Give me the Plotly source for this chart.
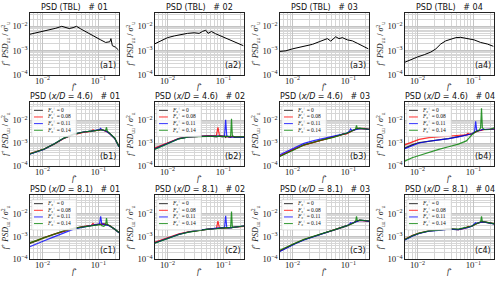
import plotly.graph_objects as go

# ---------------- data ----------------
# row (a): turbulent boundary layer spectra
a1_f = [0.0058, 0.0076, 0.010, 0.0132, 0.0173, 0.0221, 0.0254, 0.030, 0.0353, 0.0405, 0.0484, 0.0594, 0.073, 0.0896, 0.110, 0.135, 0.161, 0.168, 0.178, 0.204, 0.228]
a1_psd = [0.00464, 0.0054, 0.0059, 0.0069, 0.0083, 0.0100, 0.0088, 0.0081, 0.0088, 0.0100, 0.0078, 0.0059, 0.00464, 0.0034, 0.00275, 0.00215, 0.0023, 0.0031, 0.00158, 0.00136, 0.00106]
a2_f = [0.0058, 0.0076, 0.010, 0.0132, 0.0173, 0.0227, 0.030, 0.0368, 0.042, 0.0484, 0.0532, 0.0611, 0.073, 0.0896, 0.110, 0.135, 0.166, 0.191, 0.228]
a2_psd = [0.00185, 0.0025, 0.0034, 0.0040, 0.00464, 0.0051, 0.0054, 0.0051, 0.0061, 0.0069, 0.0051, 0.0061, 0.0049, 0.0040, 0.0033, 0.00275, 0.0023, 0.00197, 0.00158]
a3_f = [0.0058, 0.0076, 0.010, 0.0132, 0.0173, 0.0227, 0.030, 0.0368, 0.042, 0.0484, 0.0594, 0.068, 0.078, 0.096, 0.118, 0.144, 0.178, 0.204, 0.228]
a3_psd = [0.00091, 0.00097, 0.00117, 0.00132, 0.00158, 0.00179, 0.0023, 0.00275, 0.0031, 0.00244, 0.0037, 0.0031, 0.0034, 0.00275, 0.0025, 0.0020, 0.00158, 0.00132, 0.00117]
a4_f = [0.0058, 0.0076, 0.010, 0.0132, 0.0173, 0.0213, 0.026, 0.032, 0.039, 0.0484, 0.0594, 0.078, 0.103, 0.135, 0.178, 0.228]
a4_psd = [0.00032, 0.00042, 0.00054, 0.00067, 0.00086, 0.00117, 0.00185, 0.0025, 0.0029, 0.0034, 0.0035, 0.0031, 0.00275, 0.00215, 0.00185, 0.00149]

# rows (b), (c): forced cases, common frequency grid
f_grid = [0.0059, 0.008, 0.0107, 0.016, 0.024, 0.036, 0.054, 0.075, 0.080, 0.085, 0.095, 0.105, 0.110, 0.115, 0.125, 0.135, 0.140, 0.145, 0.160, 0.197, 0.235]
forcing_labels = ["0", "0.08", "0.11", "0.14"]

b1_k0 = [0.00034, 0.00044, 0.00055, 0.00091, 0.00164, 0.0024, 0.0031, 0.0034, 0.0035, 0.0036, 0.0037, 0.0039, 0.0040, 0.0039, 0.0037, 0.0035, 0.0034, 0.0032, 0.0027, 0.00164, 0.0007]
b1_k08 = [0.00035, 0.00045, 0.00056, 0.00090, 0.00160, 0.0024, 0.0030, 0.0033, 0.0039, 0.0035, 0.0036, 0.0038, 0.0041, 0.0038, 0.0036, 0.0034, 0.0033, 0.0031, 0.0026, 0.00160, 0.00072]
b1_k11 = [0.00033, 0.00043, 0.00054, 0.00092, 0.00166, 0.0025, 0.0031, 0.0034, 0.0035, 0.0036, 0.0038, 0.0040, 0.0045, 0.0039, 0.0036, 0.0035, 0.0034, 0.0031, 0.0026, 0.00160, 0.00068]
b1_k14 = [0.00034, 0.00045, 0.00056, 0.00093, 0.00168, 0.0025, 0.0031, 0.0034, 0.0035, 0.0036, 0.0037, 0.0039, 0.0040, 0.0039, 0.0037, 0.0036, 0.0050, 0.0034, 0.0027, 0.00166, 0.0007]

b2_k0 = [0.00059, 0.00077, 0.00107, 0.0016, 0.0019, 0.0020, 0.0021, 0.0019, 0.0020, 0.0021, 0.0019, 0.0020, 0.0018, 0.0020, 0.0019, 0.0018, 0.0019, 0.0020, 0.0018, 0.0019, 0.0019]
b2_k08 = [0.00062, 0.0008, 0.0011, 0.00165, 0.0019, 0.0020, 0.0021, 0.0022, 0.0050, 0.0022, 0.0021, 0.0020, 0.0020, 0.0020, 0.0019, 0.0020, 0.0019, 0.0020, 0.0019, 0.0019, 0.0018]
b2_k11 = [0.00056, 0.00074, 0.00104, 0.00158, 0.0019, 0.0020, 0.0020, 0.0020, 0.0020, 0.0020, 0.0020, 0.0021, 0.0107, 0.0021, 0.0019, 0.0019, 0.0019, 0.0019, 0.0018, 0.0019, 0.0018]
b2_k14 = [0.00053, 0.00072, 0.00102, 0.00156, 0.0019, 0.0020, 0.0020, 0.0020, 0.0020, 0.0021, 0.0020, 0.0020, 0.0020, 0.0020, 0.0020, 0.0020, 0.0118, 0.0021, 0.0019, 0.0019, 0.0019]

b3_k0 = [0.00027, 0.00037, 0.00054, 0.00085, 0.00114, 0.00148, 0.0019, 0.00235, 0.0024, 0.0025, 0.0027, 0.0031, 0.0033, 0.0034, 0.0037, 0.0041, 0.0043, 0.0044, 0.0045, 0.0044, 0.0040]
b3_k08 = [0.00028, 0.00038, 0.00055, 0.00083, 0.00112, 0.00150, 0.0019, 0.0023, 0.0026, 0.0025, 0.0026, 0.0030, 0.0033, 0.0035, 0.0036, 0.0040, 0.0042, 0.0045, 0.0044, 0.0045, 0.0041]
b3_k11 = [0.00031, 0.00043, 0.00063, 0.00098, 0.0013, 0.0016, 0.0020, 0.0024, 0.0024, 0.0026, 0.0028, 0.0034, 0.0042, 0.0036, 0.0038, 0.0040, 0.0042, 0.0044, 0.0044, 0.0043, 0.0040]
b3_k14 = [0.00026, 0.00036, 0.00052, 0.00084, 0.00113, 0.00145, 0.0018, 0.0023, 0.0024, 0.0025, 0.0027, 0.0030, 0.0032, 0.0034, 0.0037, 0.0042, 0.0061, 0.0044, 0.0046, 0.0045, 0.0041]

b4_k0 = [0.00061, 0.00085, 0.00107, 0.00126, 0.00139, 0.0016, 0.0019, 0.0022, 0.0023, 0.00235, 0.0026, 0.0030, 0.0032, 0.0033, 0.0036, 0.0037, 0.0039, 0.0039, 0.0040, 0.0040, 0.0041]
b4_k08 = [0.00085, 0.00114, 0.00148, 0.00175, 0.0019, 0.0021, 0.0022, 0.00235, 0.0027, 0.0024, 0.0026, 0.0030, 0.0032, 0.0033, 0.0035, 0.0037, 0.0038, 0.0039, 0.0040, 0.0041, 0.0042]
b4_k11 = [0.00058, 0.00080, 0.00102, 0.00122, 0.00136, 0.00158, 0.0019, 0.0022, 0.0023, 0.0024, 0.0026, 0.0031, 0.0091, 0.0034, 0.0035, 0.0037, 0.0038, 0.0040, 0.0041, 0.0040, 0.0042]
b4_k14 = [0.000164, 0.00023, 0.00029, 0.0004, 0.00054, 0.0007, 0.00091, 0.00126, 0.00144, 0.00175, 0.0024, 0.0029, 0.0032, 0.0034, 0.0036, 0.0047, 0.0338, 0.0047, 0.0039, 0.0040, 0.0047]

c1_k0 = [0.0005, 0.00065, 0.00091, 0.00126, 0.00175, 0.00228, 0.0027, 0.0031, 0.0032, 0.0033, 0.0034, 0.0035, 0.0036, 0.0036, 0.0036, 0.0035, 0.0034, 0.0033, 0.0030, 0.0021, 0.00148]
c1_k08 = [0.00052, 0.00068, 0.00094, 0.00128, 0.00172, 0.00225, 0.0027, 0.0031, 0.0038, 0.0033, 0.0034, 0.0035, 0.0036, 0.0035, 0.0035, 0.0034, 0.0034, 0.0032, 0.0030, 0.0021, 0.00150]
c1_k11 = [0.00036, 0.00047, 0.00065, 0.00097, 0.00148, 0.0021, 0.0026, 0.0030, 0.0031, 0.0032, 0.0034, 0.0036, 0.0077, 0.0036, 0.0034, 0.0033, 0.0033, 0.0032, 0.0029, 0.0021, 0.00145]
c1_k14 = [0.00053, 0.00069, 0.00095, 0.0013, 0.0018, 0.0023, 0.0027, 0.0031, 0.0032, 0.0033, 0.0034, 0.0035, 0.0034, 0.0030, 0.0028, 0.0032, 0.0065, 0.0034, 0.0030, 0.0021, 0.00150]

c2_k0 = [0.00054, 0.0007, 0.00091, 0.00126, 0.0016, 0.0019, 0.0021, 0.0023, 0.0023, 0.00235, 0.00235, 0.0024, 0.0024, 0.0024, 0.0024, 0.0024, 0.0024, 0.0025, 0.0026, 0.0027, 0.0029]
c2_k08 = [0.00057, 0.00073, 0.00094, 0.0013, 0.00162, 0.0019, 0.0021, 0.0023, 0.0047, 0.0024, 0.0024, 0.0024, 0.0024, 0.0025, 0.0024, 0.0024, 0.0025, 0.0025, 0.0026, 0.0027, 0.0028]
c2_k11 = [0.00052, 0.00068, 0.0009, 0.00124, 0.00158, 0.0019, 0.0021, 0.0023, 0.0023, 0.0023, 0.0024, 0.0025, 0.0082, 0.0025, 0.0024, 0.0024, 0.0024, 0.0025, 0.0026, 0.0027, 0.0029]
c2_k14 = [0.00051, 0.00067, 0.00089, 0.00123, 0.00157, 0.00188, 0.0021, 0.0022, 0.0023, 0.0023, 0.0024, 0.0024, 0.0024, 0.0024, 0.0024, 0.0025, 0.0126, 0.0025, 0.0026, 0.0027, 0.0029]

c3_k0 = [0.00023, 0.00034, 0.00047, 0.00072, 0.00103, 0.00139, 0.0019, 0.0024, 0.0025, 0.0027, 0.0030, 0.0034, 0.0035, 0.0037, 0.0040, 0.0045, 0.0047, 0.0048, 0.0052, 0.0050, 0.0047]
c3_k08 = [0.00024, 0.00035, 0.00048, 0.00074, 0.00105, 0.0014, 0.0019, 0.0024, 0.0027, 0.0027, 0.0030, 0.0034, 0.0036, 0.0037, 0.0041, 0.0044, 0.0046, 0.0049, 0.0051, 0.0049, 0.0046]
c3_k11 = [0.00022, 0.00033, 0.00046, 0.00071, 0.00101, 0.00137, 0.00188, 0.0024, 0.0025, 0.0026, 0.0030, 0.0035, 0.0040, 0.0038, 0.0041, 0.0045, 0.0047, 0.0049, 0.0051, 0.0050, 0.0046]
c3_k14 = [0.00025, 0.00036, 0.00049, 0.00075, 0.00106, 0.00142, 0.0019, 0.0024, 0.0025, 0.0027, 0.0030, 0.0033, 0.0034, 0.0036, 0.0040, 0.0046, 0.0077, 0.0049, 0.0052, 0.0051, 0.0048]

c4_k0 = [0.00072, 0.00107, 0.00139, 0.00175, 0.0019, 0.0021, 0.0020, 0.0024, 0.0025, 0.0027, 0.0029, 0.0034, 0.0036, 0.0037, 0.0040, 0.0043, 0.0044, 0.0044, 0.0043, 0.0039, 0.0036]
c4_k08 = [0.00075, 0.0011, 0.00142, 0.00178, 0.00195, 0.0022, 0.0020, 0.0024, 0.0028, 0.0027, 0.0029, 0.0033, 0.0036, 0.0038, 0.0041, 0.0042, 0.0043, 0.0045, 0.0044, 0.0040, 0.0037]
c4_k11 = [0.0007, 0.00104, 0.00136, 0.00172, 0.00188, 0.0021, 0.0020, 0.0023, 0.0025, 0.0026, 0.0029, 0.0035, 0.0040, 0.0038, 0.0040, 0.0043, 0.0044, 0.0044, 0.0043, 0.0039, 0.0036]
c4_k14 = [0.00074, 0.00109, 0.00141, 0.00177, 0.0019, 0.0022, 0.0021, 0.0024, 0.0025, 0.0027, 0.0029, 0.0034, 0.0036, 0.0037, 0.0040, 0.0044, 0.0077, 0.0045, 0.0044, 0.0040, 0.0037]

probes = ["01", "02", "03", "04"]

# ---------------- figure ----------------
W, H = 500, 284
col_px = [(30, 119), (155, 244), (280, 369), (405, 494)]
row_px = [(13, 76), (104, 169), (199, 264)]
line_colors = ["black", "red", "blue", "green"]
SERIF = "Liberation Serif"
SANS = "DejaVu Sans"

tbl_sets = [(a1_f, a1_psd), (a2_f, a2_psd), (a3_f, a3_psd), (a4_f, a4_psd)]
forced_rows = [
    [[b1_k0, b1_k08, b1_k11, b1_k14], [b2_k0, b2_k08, b2_k11, b2_k14],
     [b3_k0, b3_k08, b3_k11, b3_k14], [b4_k0, b4_k08, b4_k11, b4_k14]],
    [[c1_k0, c1_k08, c1_k11, c1_k14], [c2_k0, c2_k08, c2_k11, c2_k14],
     [c3_k0, c3_k08, c3_k11, c3_k14], [c4_k0, c4_k08, c4_k11, c4_k14]],
]
row_letters = ["a", "b", "c"]
row_titles = ["PSD (TBL)", "PSD (<i>x/D</i> = 4.6)", "PSD (<i>x/D</i> = 8.1)"]

fig = go.Figure()
layout = {}
annotations = []
shapes = []

ytitle = "<i>f</i><sup>+</sup> <i>PSD</i><sub>uu</sub> / <i>σ</i><sup>2</sup><sub>u</sub>"

for r in range(3):
    for c in range(4):
        p = r * 4 + c + 1
        xn = "x" if p == 1 else f"x{p}"
        yn = "y" if p == 1 else f"y{p}"
        xk = "xaxis" if p == 1 else f"xaxis{p}"
        yk = "yaxis" if p == 1 else f"yaxis{p}"
        x0, x1 = col_px[c]
        t0, t1 = row_px[r]
        yr = [-4.0, -1.44] if r == 0 else [-4.0, -1.2]
        common = dict(type="log", showline=True, mirror=True, linecolor="#222", linewidth=0.8,
                      showgrid=True, gridcolor="#c4c4c4", gridwidth=0.6, dtick=1,
                      exponentformat="power", ticks="", zeroline=False,
                      tickfont=dict(family=SERIF, size=7, color="#222"),
                      minor=dict(showgrid=True, gridcolor="#d6d6d6", gridwidth=0.5, dtick="D1"))
        layout[xk] = dict(common, domain=[x0 / W, x1 / W], anchor=yn, range=[-2.225, -0.63],
                          ticklabelstandoff=-2)
        layout[yk] = dict(common, domain=[1 - t1 / H, 1 - t0 / H], anchor=xn, range=yr,
                          title=dict(text=ytitle, standoff=2,
                                     font=dict(family=SERIF, size=8, color="#222")))
        # x-axis title
        annotations.append(dict(text="<i>f</i>⁺", xref=f"{xn} domain",
                                yref=f"{yn} domain", x=0.5, y=0.0, yshift=-12,
                                xanchor="center", yanchor="middle", showarrow=False,
                                borderpad=0, font=dict(family=SERIF, size=8, color="#222")))
        # title
        annotations.append(dict(text=f"{row_titles[r]}   # {probes[c]}", xref=f"{xn} domain",
                                yref=f"{yn} domain", x=0.5, y=1.0, yshift=0, xanchor="center",
                                yanchor="bottom", showarrow=False, borderpad=0,
                                font=dict(family=SANS, size=8, color="#111")))
        # panel label
        annotations.append(dict(text=f"({row_letters[r]}{c + 1})", xref=f"{xn} domain",
                                yref=f"{yn} domain", x=0.985, y=0.04, xanchor="right",
                                yanchor="bottom", showarrow=False,
                                font=dict(family=SANS, size=8, color="#111")))
        if r == 0:
            fx, fy = tbl_sets[c]
            fig.add_trace(go.Scatter(x=fx, y=fy, mode="lines", xaxis=xn, yaxis=yn,
                                     line=dict(color="black", width=1), showlegend=False))
        else:
            series = forced_rows[r - 1][c]
            for k, vals in enumerate(series):
                fig.add_trace(go.Scatter(x=f_grid, y=vals, mode="lines", xaxis=xn, yaxis=yn,
                                         line=dict(color=line_colors[k], width=1.2),
                                         opacity=0.8, showlegend=False))
            # legend box
            shapes.append(dict(type="rect", xref=f"{xn} domain", yref=f"{yn} domain",
                               x0=0.02, x1=0.52, y0=0.46, y1=0.935, layer="above",
                               fillcolor="rgba(255,255,255,0.85)",
                               line=dict(color="#cccccc", width=0.6)))
            for k in range(4):
                yy = 0.872 - k * 0.104
                shapes.append(dict(type="line", xref=f"{xn} domain", yref=f"{yn} domain",
                                   x0=0.045, x1=0.145, y0=yy, y1=yy, layer="above",
                                   line=dict(color=line_colors[k], width=1), opacity=0.8))
                annotations.append(dict(text=f"<i>F</i><sub>c</sub><sup>+</sup> = {forcing_labels[k]}",
                                        xref=f"{xn} domain", yref=f"{yn} domain",
                                        x=0.17, y=yy, xanchor="left", yanchor="middle",
                                        showarrow=False,
                                        font=dict(family=SERIF, size=5.5, color="#111")))

fig.update_layout(**layout)
fig.update_layout(width=W, height=H, margin=dict(l=0, r=0, t=0, b=0),
                  plot_bgcolor="white", paper_bgcolor="white", showlegend=False,
                  annotations=annotations, shapes=shapes)
fig.write_html("out.html", config={"displayModeBar": False},
               post_script="document.body.style.margin='0px';document.body.style.overflow='hidden';")
